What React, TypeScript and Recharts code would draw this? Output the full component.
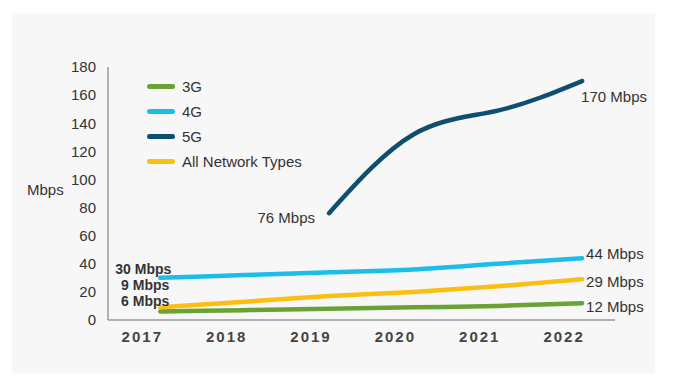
import { LineChart, Line, XAxis, YAxis } from "recharts";

const years = [2017, 2018, 2019, 2020, 2021, 2022];
const g3 = [6, 7, 8, 9, 10, 12];
const g4 = [30, 32, 34, 36, 40, 44];
const g5 = [null, null, 76, 132, 149, 170];
const allTypes = [9, 13, 17, 20, 24, 29];
const yTicks = [0, 20, 40, 60, 80, 100, 120, 140, 160, 180];

const data = years.map((year, i) => ({
  year,
  g3: g3[i],
  g4: g4[i],
  g5: g5[i],
  all: allTypes[i],
}));

const series = [
  { key: "g3", name: "3G", color: "#6aa236", curve: "monotone" },
  { key: "g4", name: "4G", color: "#1dbdea", curve: "monotone" },
  { key: "g5", name: "5G", color: "#0e4f6f", curve: "natural" },
  { key: "all", name: "All Network Types", color: "#fbbf12", curve: "monotone" },
];

const FONT = "'Liberation Sans', Arial, sans-serif";
const TEXT = "#333";

type LabelRule = { dx: number; dy: number; anchor: "start" | "end"; bold?: boolean };

// which points get a value label, and where it sits relative to the point
const labelRules: Record<string, Record<number, LabelRule>> = {
  g3: { 0: { dx: 9, dy: -11, anchor: "end", bold: true }, 5: { dx: 4, dy: 3, anchor: "start" } },
  g4: { 0: { dx: 11, dy: -9, anchor: "end", bold: true }, 5: { dx: 4, dy: -5, anchor: "start" } },
  g5: { 2: { dx: -14, dy: 4, anchor: "end" }, 5: { dx: -1, dy: 15, anchor: "start" } },
  all: { 0: { dx: 9, dy: -22, anchor: "end", bold: true }, 5: { dx: 4, dy: 2, anchor: "start" } },
};

function makeLabel(key: string) {
  return (p: any) => {
    const rule = labelRules[key][p.index];
    if (!rule || p.value == null || p.x == null || p.y == null || isNaN(p.y)) return <g key={p.index} />;
    return (
      <text
        key={p.index}
        x={p.x + rule.dx}
        y={p.y + rule.dy}
        textAnchor={rule.anchor}
        dominantBaseline="central"
        fontFamily={FONT}
        fontSize={rule.bold ? 14 : 15}
        fontWeight={rule.bold ? 700 : 400}
        fill={TEXT}
      >
        {`${p.value} Mbps`}
      </text>
    );
  };
}

function YearTick({ x, y, payload }: any) {
  return (
    <text
      x={x - 18}
      y={y + 22}
      textAnchor="middle"
      fontFamily={FONT}
      fontSize={15}
      fontWeight={700}
      letterSpacing={2}
      fill="#444"
    >
      {payload.value}
    </text>
  );
}

export default function App() {
  return (
    <div style={{ position: "absolute", left: 0, top: 0, width: 680, height: 382, background: "#fff" }}>
      <div
        style={{ position: "absolute", left: 12, top: 13, width: 643, height: 360, background: "#f7f7f7" }}
      />
      <div
        style={{ position: "absolute", left: 27, top: 181, fontFamily: FONT, fontSize: 15, color: TEXT }}
      >
        Mbps
      </div>
      <div style={{ position: "absolute", left: 0, top: 0 }}>
        <LineChart width={680} height={382} data={data} margin={{ top: 67, right: 65, bottom: 32, left: 48 }}>
          <XAxis
            dataKey="year"
            type="number"
            domain={[2016.38, 2022.39]}
            ticks={years}
            allowDataOverflow
            height={30}
            tickSize={0}
            tickMargin={0}
            tickLine={false}
            axisLine={{ stroke: "#9a9a9a", strokeWidth: 1.5 }}
            tick={<YearTick />}
          />
          <YAxis
            width={60}
            domain={[0, 180]}
            ticks={yTicks}
            tickSize={0}
            tickMargin={12}
            tickLine={false}
            axisLine={{ stroke: "#9a9a9a", strokeWidth: 1.5 }}
            tick={{ fill: TEXT, fontSize: 15, fontFamily: FONT }}
          />
          {series.map((s) => (
            <Line
              key={s.key}
              dataKey={s.key}
              name={s.name}
              type={s.curve as any}
              stroke={s.color}
              strokeWidth={4.5}
              strokeLinecap="round"
              dot={false}
              isAnimationActive={false}
              label={makeLabel(s.key)}
            />
          ))}
        </LineChart>
      </div>
      {/* legend */}
      <div style={{ position: "absolute", left: 147, top: 74, fontFamily: FONT, fontSize: 15, color: TEXT }}>
        {series.map((s) => (
          <div key={s.key} style={{ display: "flex", alignItems: "center", height: 25 }}>
            <span
              style={{
                display: "inline-block",
                width: 28,
                height: 5,
                borderRadius: 3,
                background: s.color,
                marginRight: 7,
              }}
            />
            <span>{s.name}</span>
          </div>
        ))}
      </div>
    </div>
  );
}
